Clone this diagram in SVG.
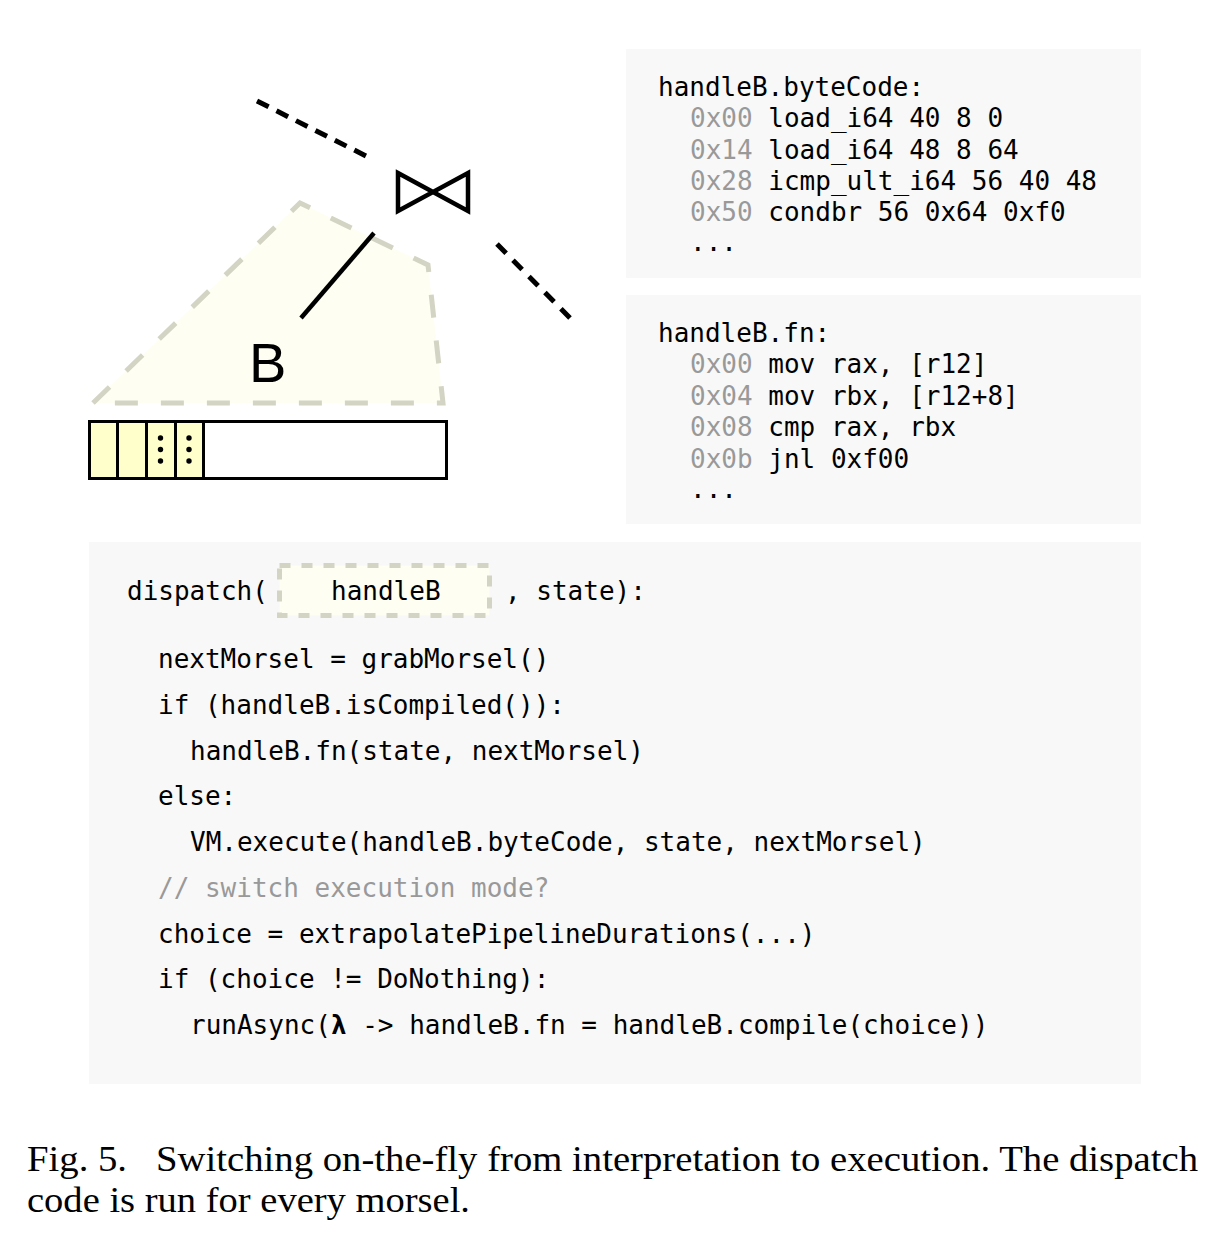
<svg xmlns="http://www.w3.org/2000/svg" width="1224" height="1258" viewBox="0 0 1224 1258">
<style>
.panel{fill:#f8f8f8;stroke:none}
.mono{font-family:"DejaVu Sans Mono","Liberation Mono",monospace;font-size:26px;fill:#000}
.gray{fill:#999999}
.dash{stroke:#000;stroke-width:5;fill:none}
.pipe{fill:#fefef2;stroke:#d4d4c4;stroke-width:5;stroke-dasharray:23 23}
.cell{fill:#ffffcc;stroke:#000;stroke-width:3}
.cap{font-family:"Liberation Serif","Times New Roman",serif;font-size:36px;fill:#000}
</style>
<rect width="1224" height="1258" fill="#fff"/>

<g id="pipeline-B">
  <polygon class="pipe" points="93,403 300,203 428,265 443,403"/>
  <text x="249" y="382" font-family="Liberation Sans, Arial, sans-serif" font-size="56">B</text>
</g>

<g id="join">
  <path d="M398,173 L468,211 L468,173 L398,211 Z" fill="none" stroke="#000" stroke-width="4.5" stroke-linejoin="miter"/>
</g>

<g id="connectors">
  <line class="dash" x1="257" y1="101" x2="366" y2="156" stroke-dasharray="13 8.8"/>
  <line class="dash" x1="497" y1="244" x2="570" y2="318" stroke-dasharray="13 9.75"/>
  <line x1="374" y1="233" x2="301" y2="318" stroke="#000" stroke-width="4.5"/>
</g>

<g id="morsel-buffer">
  <rect x="89.5" y="421.5" width="357" height="57" fill="#fff" stroke="#000" stroke-width="3"/>
  <rect class="cell" x="89.5" y="421.5" width="28" height="57"/>
  <rect class="cell" x="117.5" y="421.5" width="29" height="57"/>
  <rect class="cell" x="146.5" y="421.5" width="29" height="57"/>
  <rect class="cell" x="175.5" y="421.5" width="28" height="57"/>
  <g fill="#000">
    <circle cx="160.5" cy="438" r="2.7"/><circle cx="160.5" cy="449.5" r="2.7"/><circle cx="160.5" cy="461" r="2.7"/>
    <circle cx="189" cy="438" r="2.7"/><circle cx="189" cy="449.5" r="2.7"/><circle cx="189" cy="461" r="2.7"/>
  </g>
</g>

<g id="bytecode-panel">
  <rect class="panel" x="626" y="49" width="515" height="229"/>
  <text class="mono" xml:space="preserve">
    <tspan x="658" y="96">handleB.byteCode:</tspan>
    <tspan x="690" y="127"><tspan class="gray">0x00</tspan> load_i64 40 8 0</tspan>
    <tspan x="690" y="159"><tspan class="gray">0x14</tspan> load_i64 48 8 64</tspan>
    <tspan x="690" y="190"><tspan class="gray">0x28</tspan> icmp_ult_i64 56 40 48</tspan>
    <tspan x="690" y="221"><tspan class="gray">0x50</tspan> condbr 56 0x64 0xf0</tspan>
    <tspan x="690" y="251">...</tspan>
  </text>
</g>

<g id="fn-panel">
  <rect class="panel" x="626" y="295" width="515" height="229"/>
  <text class="mono" xml:space="preserve">
    <tspan x="658" y="342">handleB.fn:</tspan>
    <tspan x="690" y="373"><tspan class="gray">0x00</tspan> mov rax, [r12]</tspan>
    <tspan x="690" y="405"><tspan class="gray">0x04</tspan> mov rbx, [r12+8]</tspan>
    <tspan x="690" y="436"><tspan class="gray">0x08</tspan> cmp rax, rbx</tspan>
    <tspan x="690" y="468"><tspan class="gray">0x0b</tspan> jnl 0xf00</tspan>
    <tspan x="690" y="498">...</tspan>
  </text>
</g>

<g id="dispatch-panel">
  <rect class="panel" x="89" y="542" width="1052" height="542"/>
  <rect x="279.5" y="565.5" width="210" height="50" fill="#fefef2" stroke="#d4d4c4" stroke-width="5" stroke-dasharray="11 11"/>
  <text class="mono" x="127" y="600">dispatch(</text>
  <text class="mono" x="331" y="600">handleB</text>
  <text class="mono" x="505" y="600">, state):</text>
  <text class="mono" x="158" y="668">nextMorsel = grabMorsel()</text>
  <text class="mono" x="158" y="714">if (handleB.isCompiled()):</text>
  <text class="mono" x="190" y="760">handleB.fn(state, nextMorsel)</text>
  <text class="mono" x="158" y="805">else:</text>
  <text class="mono" x="190" y="851">VM.execute(handleB.byteCode, state, nextMorsel)</text>
  <text class="mono gray" x="158" y="897">// switch execution mode?</text>
  <text class="mono" x="158" y="943">choice = extrapolatePipelineDurations(...)</text>
  <text class="mono" x="158" y="988">if (choice != DoNothing):</text>
  <text class="mono" x="190" y="1034">runAsync(<tspan font-weight="bold">λ</tspan> -&gt; handleB.fn = handleB.compile(choice))</text>
</g>

<g id="caption">
  <text class="cap" x="27" y="1171" textLength="1171" lengthAdjust="spacingAndGlyphs" xml:space="preserve">Fig. 5.   Switching on-the-fly from interpretation to execution. The dispatch</text>
  <text class="cap" x="27" y="1212" textLength="443" lengthAdjust="spacingAndGlyphs">code is run for every morsel.</text>
</g>
</svg>
